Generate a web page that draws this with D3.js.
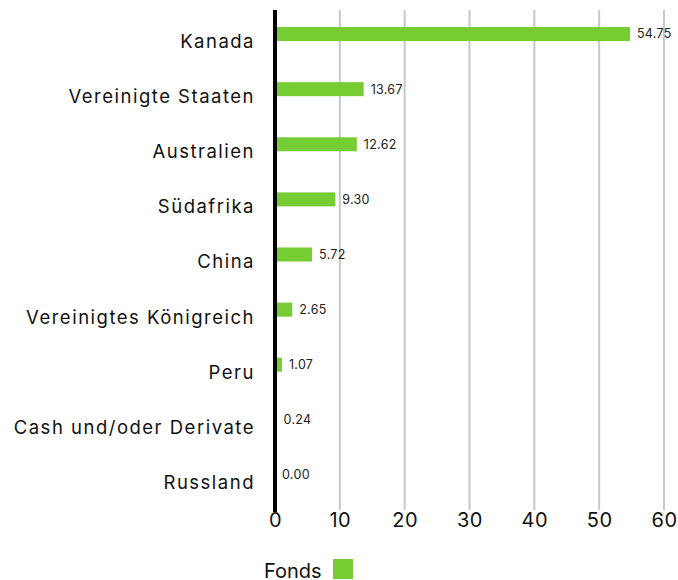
<!DOCTYPE html>
<html lang="de">
<head>
<meta charset="UTF-8">
<title>Länder</title>
<style>
  body { margin: 0; background: #fff; }
  text { font-family: Inter, "Noto Sans", sans-serif; fill: #111; }
  .cat text { font-size: 18.5px; letter-spacing: 1.5px; }
  .xaxis text { font-size: 20px; letter-spacing: 0.5px; }
  .val { font-size: 12.5px; fill: #222; letter-spacing: 0.3px; }
</style>
<script src="https://cdn.jsdelivr.net/npm/d3@7"></script>
</head>
<body>
<div id="chart"></div>
<script>
const countries = ["Kanada", "Vereinigte Staaten", "Australien", "Südafrika", "China",
  "Vereinigtes Königreich", "Peru", "Cash und/oder Derivate", "Russland"];
const fonds = [54.75, 13.67, 12.62, 9.30, 5.72, 2.65, 1.07, 0.24, 0.00];
const ticks = [0, 10, 20, 30, 40, 50, 60];
const seriesName = "Fonds";
const green = "#76cc33";

const width = 678, height = 580;
const svg = d3.select("#chart").append("svg")
  .attr("width", width).attr("height", height);

const x = d3.scaleLinear().domain([0, 60]).range([275, 664]);
const y = d3.scaleBand().domain(countries).range([6.5, 502.5]);
const gridTop = 10, gridBottom = 510;

// gridlines
svg.append("g").selectAll("line")
  .data(ticks.slice(1))
  .join("line")
  .attr("x1", d => x(d)).attr("x2", d => x(d))
  .attr("y1", gridTop).attr("y2", gridBottom)
  .attr("stroke", "#c8c8c8").attr("stroke-width", 2);

// bars
const barH = 14;
svg.append("g").selectAll("rect")
  .data(countries)
  .join("rect")
  .attr("x", x(0))
  .attr("y", d => y(d) + y.bandwidth() / 2 - barH / 2)
  .attr("width", (d, i) => x(fonds[i]) - x(0))
  .attr("height", barH)
  .attr("fill", green);

// value labels
svg.append("g").selectAll("text")
  .data(countries)
  .join("text")
  .attr("class", "val")
  .attr("x", (d, i) => x(fonds[i]) + 7)
  .attr("y", d => y(d) + y.bandwidth() / 2)
  .attr("dy", "0.35em")
  .text((d, i) => fonds[i].toFixed(2));

// zero line
svg.append("line")
  .attr("x1", x(0)).attr("x2", x(0))
  .attr("y1", gridTop).attr("y2", gridBottom + 2)
  .attr("stroke", "#000").attr("stroke-width", 4);

// category axis
const yAxis = d3.axisLeft(y).tickSize(0).tickPadding(0);
const gy = svg.append("g").attr("class", "cat")
  .attr("transform", "translate(255,8)")
  .call(yAxis);
gy.select(".domain").remove();

// x axis
const xAxis = d3.axisBottom(x).tickValues(ticks).tickSize(0).tickPadding(0);
const gx = svg.append("g").attr("class", "xaxis")
  .attr("transform", `translate(0,${gridBottom + 3})`)
  .call(xAxis);
gx.select(".domain").remove();

// legend
svg.append("text")
  .attr("x", 264).attr("y", 578)
  .style("font-size", "20px")
  .text(seriesName);
svg.append("rect")
  .attr("x", 333).attr("y", 559)
  .attr("width", 20).attr("height", 20)
  .attr("fill", green);
</script>
</body>
</html>
